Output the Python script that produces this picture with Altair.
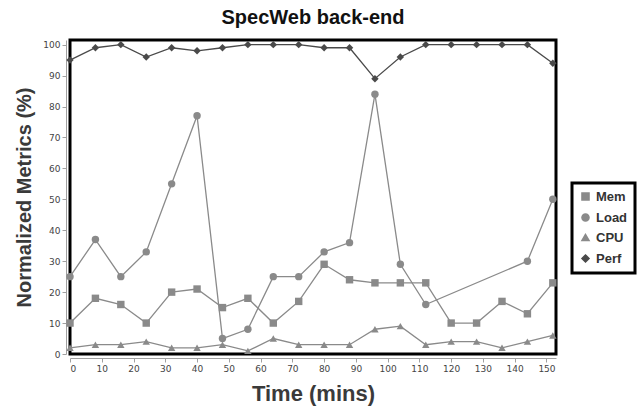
import altair as alt
import pandas as pd

times = [0, 8, 16, 24, 32, 40, 48, 56, 64, 72, 80, 88, 96, 104, 112, 120, 128, 136, 144, 152]
mem = [10, 18, 16, 10, 20, 21, 15, 18, 10, 17, 29, 24, 23, 23, 23, 10, 10, 17, 13, 23]
load = [25, 37, 25, 33, 55, 77, 5, 8, 25, 25, 33, 36, 84, 29, 16, None, None, None, 30, 50]
cpu = [2, 3, 3, 4, 2, 2, 3, 1, 5, 3, 3, 3, 8, 9, 3, 4, 4, 2, 4, 6]
perf = [95, 99, 100, 96, 99, 98, 99, 100, 100, 100, 99, 99, 89, 96, 100, 100, 100, 100, 100, 94]

series = ["Mem", "Load", "CPU", "Perf"]
colors = ["#8a8a8a", "#8a8a8a", "#8a8a8a", "#4a4a4a"]
shapes = ["square", "circle", "triangle-up", "diamond"]

rows = []
for name, vals in zip(series, [mem, load, cpu, perf]):
    for t, v in zip(times, vals):
        if v is not None:
            rows.append({"Time": t, "Value": v, "Series": name})
df = pd.DataFrame(rows)

x = alt.X("Time:Q", title="Time (mins)",
          scale=alt.Scale(domain=[0, 153], nice=False, zero=False),
          axis=alt.Axis(values=list(range(0, 151, 10)), grid=False, offset=4,
                        domainColor="#a0a0a0", tickColor="#a0a0a0", tickSize=4,
                        labelFont="DejaVu Sans", labelFontSize=9, labelColor="#444444",
                        titleFont="Liberation Sans", titleFontSize=22, titleColor="#3a3a3a",
                        titleFontWeight="bold", titlePadding=10))
y = alt.Y("Value:Q", title="Normalized Metrics (%)",
          scale=alt.Scale(domain=[0, 101.5], nice=False),
          axis=alt.Axis(values=list(range(0, 101, 10)), grid=False, offset=4,
                        domainColor="#a0a0a0", tickColor="#a0a0a0", tickSize=4,
                        labelFont="DejaVu Sans", labelFontSize=9, labelColor="#444444",
                        titleFont="Liberation Sans", titleFontSize=20, titleColor="#3a3a3a",
                        titleFontWeight="bold", titlePadding=8))

color = alt.Color("Series:N", scale=alt.Scale(domain=series, range=colors),
                  legend=alt.Legend(title=None, orient="none", legendX=502, legendY=143,
                                    padding=7,
                                    labelFont="Liberation Sans", labelFontSize=13,
                                    labelFontWeight="bold", labelColor="#333333",
                                    symbolSize=50, fillColor="white"))
shape = alt.Shape("Series:N", scale=alt.Scale(domain=series, range=shapes),
                  legend=alt.Legend(title=None, orient="none", legendX=502, legendY=143))

lines = alt.Chart(df).mark_line(strokeWidth=1.3).encode(
    x=x, y=y, color=color, detail="Series:N", order="Time:Q")
points = alt.Chart(df).mark_point(filled=True, size=55, opacity=1).encode(
    x=x, y=y, color=color, shape=shape)

chart = alt.layer(lines, points).properties(
    width=486, height=314,
    title=alt.Title("SpecWeb back-end", font="Liberation Sans", fontSize=20,
                    fontWeight="bold", color="#111111", anchor="middle", offset=12),
    autosize=alt.AutoSizeParams(type="none"),
    padding={"left": 70, "top": 40, "right": 82, "bottom": 58},
).configure_view(stroke="black", strokeWidth=3
).configure_legend(strokeColor="black", strokeWidth=3, rowPadding=6)

chart.save("out.html", embed_options={"renderer": "svg", "actions": False})
